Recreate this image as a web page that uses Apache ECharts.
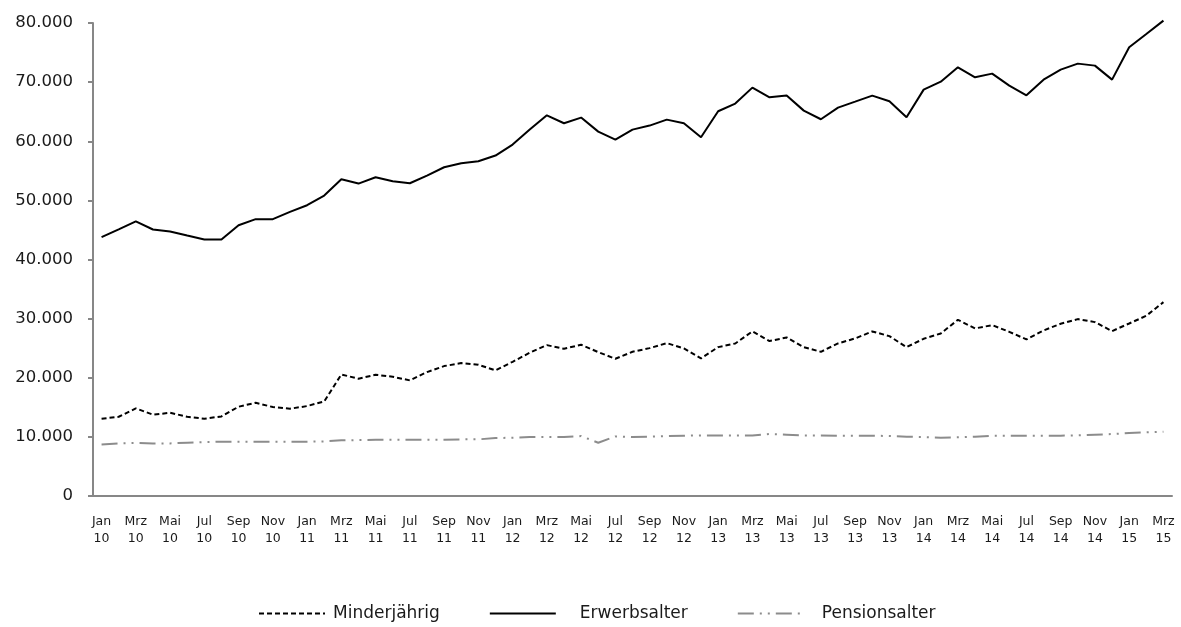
<!DOCTYPE html>
<html>
<head>
    <meta charset="utf-8"/>
    <title>Altersgruppen</title>
    <script src="https://cdn.jsdelivr.net/npm/echarts@6/dist/echarts.min.js"></script>
    <style>
        html, body { margin: 0; padding: 0; background: #fff; }
        #chart { width: 1181px; height: 627px; }
    </style>
</head>
<body>
<div id="chart"></div>
<script type="text/javascript">
    // Monatsnamen und Jahre fuer die Kategorien
    let monthNames = ['Jan', 'Feb', 'Mrz', 'Apr', 'Mai', 'Jun', 'Jul', 'Aug', 'Sep', 'Okt', 'Nov', 'Dez'];
    let years = ['10', '11', '12', '13', '14', '15'];
    let lastYearMonths = 3;

    let minderjaehrig = [
        13070, 13400, 14820, 13750, 14080, 13400, 13070, 13460, 15100, 15770, 15040, 14760,
        15210, 16000, 20560, 19830, 20510, 20170, 19550, 20960, 21970, 22480, 22200, 21240,
        22700, 24230, 25520, 24900, 25580, 24340, 23210, 24390, 25010, 25860, 24960, 23270,
        25180, 25800, 27830, 26200, 26820, 25180, 24390, 25800, 26650, 27830, 27040, 25180,
        26590, 27490, 29800, 28340, 28900, 27770, 26480, 28000, 29130, 29920, 29410, 27890,
        29180, 30480, 32790
    ];
    let erwerbsalter = [
        43780, 45100, 46450, 45070, 44730, 44050, 43380, 43380, 45800, 46820, 46820, 48050,
        49180, 50820, 53580, 52840, 53920, 53240, 52900, 54200, 55600, 56280, 56620, 57580,
        59440, 61970, 64390, 63040, 64000, 61630, 60280, 61970, 62650, 63660, 63040, 60680,
        65070, 66370, 69070, 67440, 67720, 65180, 63720, 65690, 66700, 67720, 66760, 64060,
        68730, 70080, 72510, 70820, 71440, 69410, 67770, 70420, 72110, 73130, 72790, 70420,
        75890, 78140, 80400
    ];
    let pensionsalter = [
        8730, 8900, 8960, 8900, 8900, 9020, 9130, 9180, 9180, 9180, 9180, 9180,
        9180, 9240, 9410, 9460, 9520, 9520, 9520, 9520, 9520, 9580, 9580, 9800,
        9860, 9970, 9970, 9970, 10140, 9010, 10080, 9970, 10030, 10140, 10200, 10250,
        10250, 10250, 10250, 10480, 10370, 10250, 10250, 10200, 10200, 10200, 10140, 10030,
        9970, 9860, 9920, 10030, 10200, 10200, 10200, 10200, 10200, 10250, 10370, 10480,
        10650, 10760, 10870
    ];
    let yTicks = [0, 10000, 20000, 30000, 40000, 50000, 60000, 70000, 80000];

    let categories = [];
    years.forEach(function (y, yi) {
        let n = yi === years.length - 1 ? lastYearMonths : 12;
        for (let m = 0; m < n; m++) {
            categories.push(monthNames[m] + '\n' + y);
        }
    });

    let fmt = function (v) {
        return String(v).replace(/\B(?=(\d{3})+(?!\d))/g, '.');
    };

    let font = '"DejaVu Sans", sans-serif';
    let axisGrey = '#878787';
    let textColor = '#1a1a1a';

    let chart = echarts.init(document.getElementById('chart'), null, {renderer: 'canvas'});
    chart.setOption({
        animation: false,
        backgroundColor: '#fff',
        textStyle: {fontFamily: font},
        grid: {left: 93, right: 9, top: 23, bottom: 131, containLabel: false},
        legend: {
            bottom: 0,
            left: 253,
            itemWidth: 66,
            itemHeight: 10,
            itemGap: 49,
            itemStyle: {opacity: 0},
            textStyle: {fontFamily: font, fontSize: 17, color: textColor},
            data: [
                {name: 'Minderjährig', textStyle: {padding: [0, 0, 0, 3]}},
                {name: 'Erwerbsalter', textStyle: {padding: [0, 0, 0, 19]}},
                {name: 'Pensionsalter', textStyle: {padding: [0, 0, 0, 13]}}
            ]
        },
        xAxis: {
            type: 'category',
            boundaryGap: true,
            data: categories,
            axisLine: {lineStyle: {color: axisGrey, width: 2}},
            axisTick: {interval: 1, length: 5, lineStyle: {color: axisGrey, width: 2}},
            axisLabel: {
                interval: 1,
                margin: 17,
                fontSize: 12.5,
                lineHeight: 17,
                color: textColor,
                fontFamily: font
            },
            splitLine: {show: false}
        },
        yAxis: {
            type: 'value',
            min: yTicks[0],
            max: yTicks[yTicks.length - 1],
            interval: 10000,
            axisLine: {show: true, lineStyle: {color: axisGrey, width: 2}},
            axisTick: {show: true, length: 5, lineStyle: {color: axisGrey, width: 2}},
            axisLabel: {
                fontSize: 16.5,
                margin: 20,
                color: textColor,
                fontFamily: font,
                formatter: fmt
            },
            splitLine: {show: false}
        },
        series: [
            {
                name: 'Minderjährig',
                type: 'line',
                data: minderjaehrig,
                symbol: 'none',
                clip: false,
                lineStyle: {color: '#000', width: 2, type: [5, 3]},
                itemStyle: {color: '#000'}
            },
            {
                name: 'Erwerbsalter',
                type: 'line',
                data: erwerbsalter,
                symbol: 'none',
                clip: false,
                lineStyle: {color: '#000', width: 2, type: 'solid'},
                itemStyle: {color: '#000'}
            },
            {
                name: 'Pensionsalter',
                type: 'line',
                data: pensionsalter,
                symbol: 'none',
                clip: false,
                lineStyle: {color: '#8c8c8c', width: 2, type: [16, 6, 2, 6, 2, 6]},
                itemStyle: {color: '#8c8c8c'}
            }
        ]
    });
</script>
</body>
</html>
